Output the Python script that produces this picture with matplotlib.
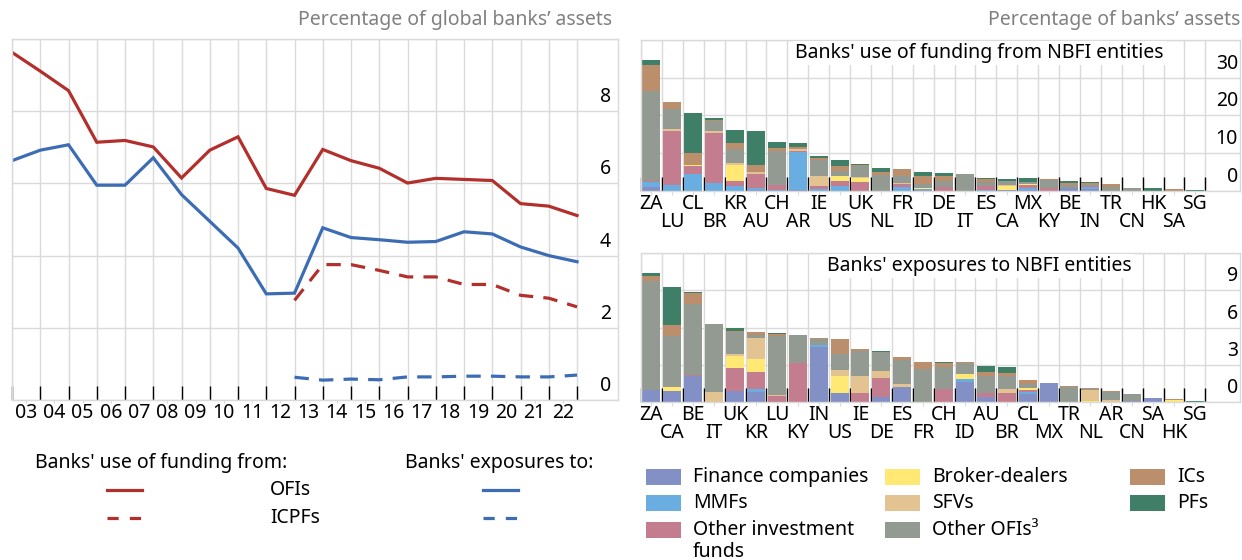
import matplotlib
matplotlib.use("Agg")
import matplotlib.pyplot as plt
import numpy as np
from matplotlib.lines import Line2D
from matplotlib.patches import Rectangle

plt.rcParams["font.family"] = ["Noto Sans", "DejaVu Sans"]
FS = 14

# ------------------------------------------------------------------
# data
# ------------------------------------------------------------------
years = ["03", "04", "05", "06", "07", "08", "09", "10", "11", "12",
         "13", "14", "15", "16", "17", "18", "19", "20", "21", "22"]

funding_ofis = [9.63, 9.11, 8.57, 7.14, 7.19, 7.01, 6.15, 6.92, 7.29, 5.86, 5.67,
                6.94, 6.63, 6.42, 6.01, 6.14, 6.11, 6.08, 5.44, 5.37, 5.11]
exposure_ofis = [6.63, 6.92, 7.07, 5.95, 5.95, 6.71, 5.69, 4.95, 4.21, 2.94, 2.96,
                 4.77, 4.50, 4.44, 4.37, 4.39, 4.66, 4.60, 4.24, 4.00, 3.83]
# ICPF series start in 2013 (point index 10)
funding_icpfs = [2.76, 3.75, 3.75, 3.59, 3.41, 3.41, 3.20, 3.20, 2.90, 2.82, 2.58]
exposure_icpfs = [0.63, 0.55, 0.58, 0.56, 0.64, 0.64, 0.66, 0.66, 0.64, 0.64, 0.69]

sectors = ["Finance companies", "MMFs", "Other investment\nfunds", "Broker-dealers",
           "SFVs", "Other OFIs³", "ICs", "PFs"]
sector_colors = ["#8390C6", "#6AADE0", "#C47D8E", "#FFE873",
                 "#E3C391", "#929A91", "#BC8F6C", "#3F7F68"]

# banks' use of funding from NBFI entities
fund_countries = ["ZA", "LU", "CL", "BR", "KR", "AU", "CH", "AR", "IE", "US", "UK", "NL", "FR", "ID",
                  "DE", "IT", "ES", "CA", "MX", "KY", "BE", "IN", "TR", "CN", "HK", "SA", "SG"]
fund_fin = [1.1, 0, 0, 0, 0, 0.2, 0, 0.25, 0, 0, 0, 0, 0, 0.2,
            0, 0, 0, 0.2, 0.3, 0, 0.6, 0.5, 0, 0, 0, 0, 0]
fund_mmf = [1.1, 1.6, 4.5, 2.0, 1.3, 0.5, 0.2, 10.1, 0.35, 1.3, 0, 0, 1.1, 0.2,
            0, 0, 0.2, 0, 0.3, 0, 0, 0.5, 0, 0, 0, 0, 0]
fund_oif = [0.3, 14.3, 2.1, 13.3, 1.3, 3.8, 1.3, 0.25, 0.8, 1.3, 2.2, 0, 0.6, 0,
            1.1, 0, 1.1, 0, 0.8, 0.6, 0, 0.2, 0, 0, 0, 0, 0]
fund_bd = [0, 0, 0.35, 0, 4.3, 0, 0, 0, 0, 1.3, 1.1, 0, 0, 0.3,
           0, 0, 0, 1.1, 0.5, 0, 0, 0, 0, 0, 0, 0, 0]
fund_sfv = [0, 0.5, 0, 0.45, 0.45, 0.5, 0, 0.5, 2.8, 0, 0.45, 0, 0.25, 0,
            0, 0, 0, 0.3, 0, 0, 0, 0, 0, 0, 0, 0, 0]
fund_other = [23.9, 5.3, 0, 2.8, 3.8, 0, 9.1, 0, 4.2, 1.3, 2.7, 4.2, 2.0, 1.0,
              1.6, 4.5, 0.9, 1.1, 0.3, 2.2, 0.9, 0.3, 1.1, 0.8, 0, 0, 0]
fund_ic = [6.9, 1.9, 3.1, 0.2, 1.5, 1.8, 0.8, 0.5, 0.5, 1.3, 0.25, 0.8, 1.9, 2.2,
           1.3, 0, 0.8, 0, 0, 0.2, 0.6, 0.45, 0.8, 0, 0, 0.5, 0]
fund_pf = [1.3, 0, 10.6, 0.5, 3.45, 9.0, 1.6, 1.1, 0.5, 1.6, 0.5, 1.1, 0, 1.0,
           0.8, 0, 0.5, 0.5, 1.1, 0, 0.45, 0.45, 0, 0, 0.8, 0, 0.25]

# banks' exposures to NBFI entities
exp_countries = ["ZA", "CA", "BE", "IT", "UK", "KR", "LU", "KY", "IN", "US", "IE", "DE", "ES", "FR",
                 "CH", "ID", "AU", "BR", "CL", "MX", "TR", "NL", "AR", "CN", "SA", "HK", "SG"]
exp_fin = [1.0, 0.94, 2.1, 0, 0.94, 0.8, 0, 0, 4.48, 0.72, 0, 0.4, 1.21, 0,
           0, 1.64, 0.4, 0, 0.67, 1.53, 0, 0, 0, 0.13, 0.35, 0, 0]
exp_mmf = [0, 0, 0, 0, 0, 0.27, 0, 0, 0.16, 0, 0, 0, 0, 0,
           0, 0.24, 0, 0, 0.16, 0, 0, 0, 0, 0, 0, 0, 0]
exp_oif = [0, 0, 0.08, 0, 1.85, 1.37, 0.5, 3.19, 0, 0.05, 0.75, 1.55, 0, 0,
           1.05, 0, 0.35, 0.75, 0.16, 0, 0, 0.05, 0, 0, 0, 0, 0]
exp_bd = [0, 0.3, 0, 0, 0.97, 1.05, 0, 0, 0, 1.34, 0, 0, 0, 0,
          0, 0.4, 0, 0, 0.15, 0, 0, 0.05, 0, 0, 0, 0.15, 0]
exp_sfv = [0, 0, 0, 0.86, 0.1, 1.69, 0.08, 0, 0, 0.48, 1.37, 0.59, 0.3, 0,
           0, 0, 0, 0.32, 0, 0.05, 0, 0.91, 0.16, 0, 0, 0, 0]
exp_other = [8.77, 4.1, 5.7, 5.44, 1.82, 0.24, 4.75, 2.22, 0.48, 1.29, 2.01, 1.5, 1.88, 2.68,
             1.8, 0.86, 1.37, 1.05, 0.35, 0, 1.26, 0.08, 0.64, 0.56, 0, 0, 0]
exp_ic = [0.4, 0.88, 0.88, 0, 0.08, 0.24, 0.16, 0, 0.08, 1.21, 0.16, 0, 0.24, 0.56,
          0.27, 0.08, 0.32, 0.24, 0.28, 0, 0.08, 0.05, 0.08, 0, 0, 0.13, 0]
exp_pf = [0.24, 3.06, 0.08, 0, 0.21, 0, 0.05, 0, 0, 0, 0, 0.08, 0, 0,
          0.13, 0.05, 0.48, 0.48, 0, 0, 0, 0, 0, 0, 0, 0, 0.1]

RED = "#B22F2C"
BLUE = "#3C6DB4"
GRID = "#DADADA"
GREY_TXT = "#808080"

W, H = 1242, 560
fig = plt.figure(figsize=(W / 100, H / 100), dpi=100)


def px_axes(x0, y0, x1, y1):
    return fig.add_axes([x0 / W, 1 - y1 / H, (x1 - x0) / W, (y1 - y0) / H])


def style_axes(ax):
    for s in ax.spines.values():
        s.set_color(GRID)
        s.set_linewidth(1.0)
    ax.set_axisbelow(True)
    ax.grid(True, which="major", axis="y", color=GRID, lw=1.0)
    ax.grid(True, which="minor", axis="x", color=GRID, lw=1.0)
    ax.tick_params(axis="y", left=False, right=False, labelleft=False)
    ax.tick_params(axis="x", which="minor", direction="in", length=10, width=1.0,
                   color="black", bottom=True)
    ax.tick_params(axis="x", which="major", direction="out", length=3, width=0.8,
                   color=GRID, labelbottom=False)


def right_labels(ax, ticks, dx=-7):
    for v in ticks:
        ax.annotate(str(v), xy=(1, v), xycoords=ax.get_yaxis_transform(),
                    xytext=(dx, 14), textcoords="offset pixels",
                    ha="right", va="center", fontsize=FS)


def x_labels(ax, xs, labels, two_rows=False):
    tr = ax.get_xaxis_transform()
    for i, (x, lab) in enumerate(zip(xs, labels)):
        dy = -13 if (not two_rows or i % 2 == 0) else -31
        ax.annotate(lab, xy=(x, 0), xycoords=tr, xytext=(0, dy),
                    textcoords="offset pixels", ha="center", va="center", fontsize=FS)


# ------------------------------------------------------------------
# left panel: lines
# ------------------------------------------------------------------
ax = px_axes(12, 39, 618, 400)
style_axes(ax)
x_all = np.arange(len(funding_ofis))
x_icpf = x_all[len(x_all) - len(funding_icpfs):]
ax.plot(x_all, funding_ofis, color=RED, lw=2.3, solid_joinstyle="miter")
ax.plot(x_all, exposure_ofis, color=BLUE, lw=2.3, solid_joinstyle="miter")
ax.plot(x_icpf, funding_icpfs, color=RED, lw=2.3, dashes=(4.5, 3.2))
ax.plot(x_icpf, exposure_icpfs, color=BLUE, lw=2.3, dashes=(4.5, 3.2))
ax.set_xlim(0, 21.45)
ax.set_ylim(0, 10)
ax.set_yticks([0, 2, 4, 6, 8, 10])
ax.set_xticks(x_all, minor=True)
year_x = np.arange(len(years)) + 0.5
ax.set_xticks(year_x)
ax.tick_params(axis="x", which="major", length=2)
x_labels(ax, year_x, years)
right_labels(ax, [0, 2, 4, 6, 8])
fig.text(612 / W, 1 - 20 / H, "Percentage of global banks\u2019 assets", ha="right",
         va="center", fontsize=FS, color=GREY_TXT)

# ------------------------------------------------------------------
# right panels: stacked bars
# ------------------------------------------------------------------
def stacked(ax, countries, series, ylim, ticks, title):
    style_axes(ax)
    xs = np.arange(len(countries))
    bottom = np.zeros(len(countries))
    for vals, col in zip(series, sector_colors):
        vals = np.asarray(vals, dtype=float)
        ax.bar(xs, vals, bottom=bottom, width=0.86, color=col, linewidth=0, zorder=2)
        bottom += vals
    ax.set_xlim(-0.5, 28.16)
    ax.set_ylim(*ylim)
    ax.set_yticks(ticks + [ylim[1]])
    ax.set_xticks(np.arange(len(countries) + 1) - 0.5, minor=True)
    ax.set_xticks(xs)
    x_labels(ax, xs, countries, two_rows=True)
    right_labels(ax, ticks, dx=-2)
    ax.text(0.565, 0.915, title, transform=ax.transAxes, ha="center", va="center",
            fontsize=FS, zorder=5,
            bbox=dict(facecolor="white", edgecolor="none", pad=1.5))


ax_f = px_axes(641, 40, 1240, 190.7)
stacked(ax_f, fund_countries,
        [fund_fin, fund_mmf, fund_oif, fund_bd, fund_sfv, fund_other, fund_ic, fund_pf],
        (0, 40), [0, 10, 20, 30], "Banks' use of funding from NBFI entities")

ax_e = px_axes(641, 253, 1240, 402.3)
stacked(ax_e, exp_countries,
        [exp_fin, exp_mmf, exp_oif, exp_bd, exp_sfv, exp_other, exp_ic, exp_pf],
        (0, 12), [0, 3, 6, 9], "Banks' exposures to NBFI entities")

fig.text(1240 / W, 1 - 20 / H, "Percentage of banks\u2019 assets", ha="right",
         va="center", fontsize=FS, color=GREY_TXT)

# ------------------------------------------------------------------
# legends
# ------------------------------------------------------------------
def ftext(x, y, s, **kw):
    fig.text(x / W, 1 - y / H, s, va="center", fontsize=FS, **kw)


def fline(x0, x1, y, color, dashed=False):
    ln = Line2D([x0 / W, x1 / W], [1 - y / H, 1 - y / H], transform=fig.transFigure,
                color=color, lw=2.3)
    if dashed:
        ln.set_dashes((3.5, 3.5))
    fig.add_artist(ln)


ftext(35, 463, "Banks' use of funding from:")
ftext(405, 463, "Banks' exposures to:")
fline(107, 142, 490, RED)
fline(107, 142, 518, RED, dashed=True)
fline(483, 518, 490, BLUE)
fline(483, 518, 518, BLUE, dashed=True)
ftext(270, 490, "OFIs")
ftext(270, 518, "ICPFs")

col_x = [646, 885, 1130]
row_y = [477, 503, 530]
slots = [(0, 0), (0, 1), (0, 2), (1, 0), (1, 1), (1, 2), (2, 0), (2, 1)]
for name, col, (c, r) in zip(sectors, sector_colors, slots):
    x, y = col_x[c], row_y[r]
    fig.add_artist(Rectangle((x / W, 1 - (y + 8) / H), 35 / W, 16 / H,
                             transform=fig.transFigure, facecolor=col, edgecolor="none"))
    fig.text((x + 47) / W, 1 - (y - 10) / H, name, va="top", fontsize=FS,
             linespacing=1.15)

fig.savefig("out.png", dpi=100)
